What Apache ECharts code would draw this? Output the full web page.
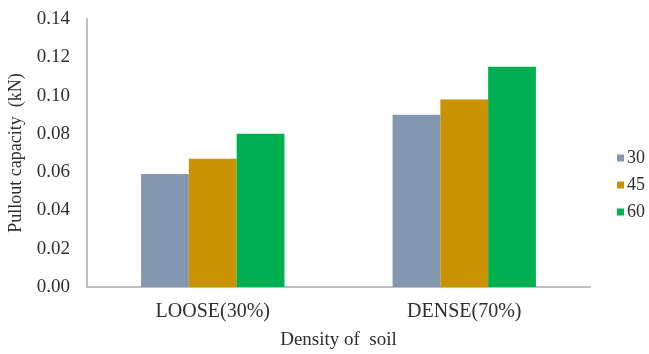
<!DOCTYPE html>
<html>
<head>
<meta charset="utf-8">
<style>
  html, body { margin: 0; padding: 0; background: #fff; }
  #chart { width: 649px; height: 354px; }
</style>
<script src="https://cdn.jsdelivr.net/npm/echarts@6/dist/echarts.min.js"></script>
</head>
<body>
<div id="chart"></div>
<script>
// Soil density groups and pullout capacity (kN) per embedment angle
const categories = ['LOOSE(30%)', 'DENSE(70%)'];
const seriesNames = ['30', '45', '60'];
const values30 = [0.059, 0.090];
const values45 = [0.067, 0.098];
const values60 = [0.080, 0.115];
const yTicks = [0, 0.02, 0.04, 0.06, 0.08, 0.10, 0.12, 0.14];

const colors = ['#8497b0', '#c99200', '#00b050'];
const font = '"Liberation Serif", "Times New Roman", serif';
const textColor = '#2e2e2e';
const seriesData = [values30, values45, values60];

const chart = echarts.init(document.getElementById('chart'));
chart.setOption({
  animation: false,
  textStyle: { fontFamily: font },
  grid: { left: 87, right: 59, top: 19, bottom: 67, outerBoundsMode: 'none', containLabel: false },
  legend: {
    orient: 'vertical',
    left: 612,
    top: 144,
    itemWidth: 7,
    itemHeight: 7,
    itemGap: 9,
    icon: 'rect',
    textStyle: { fontFamily: font, fontSize: 18, color: textColor, padding: [0, 0, 0, -2] },
    data: seriesNames
  },
  xAxis: {
    type: 'category',
    data: categories,
    name: 'Density of  soil',
    nameLocation: 'middle',
    nameGap: 44,
    nameTextStyle: { fontFamily: font, fontSize: 19, color: textColor },
    axisLine: { lineStyle: { color: '#bfbfbf', width: 2 } },
    axisTick: { show: false },
    axisLabel: { fontFamily: font, fontSize: 20, color: textColor, margin: 15 }
  },
  yAxis: {
    type: 'value',
    min: yTicks[0],
    max: yTicks[yTicks.length - 1],
    interval: 0.02,
    name: 'Pullout capacity  (kN)',
    nameLocation: 'middle',
    nameGap: 62,
    nameTextStyle: { fontFamily: font, fontSize: 18, color: textColor, padding: [0, 0, 0, 0] },
    axisLine: { show: true, lineStyle: { color: '#bfbfbf', width: 2 } },
    axisTick: { show: false },
    splitLine: { show: false },
    axisLabel: {
      fontFamily: font, fontSize: 19, color: textColor, margin: 17,
      formatter: v => v.toFixed(2)
    }
  },
  series: seriesNames.map((name, i) => ({
    name,
    type: 'bar',
    data: seriesData[i],
    barGap: '0%',
    barCategoryGap: '43%',
    itemStyle: { color: colors[i] }
  }))
});
</script>
</body>
</html>
